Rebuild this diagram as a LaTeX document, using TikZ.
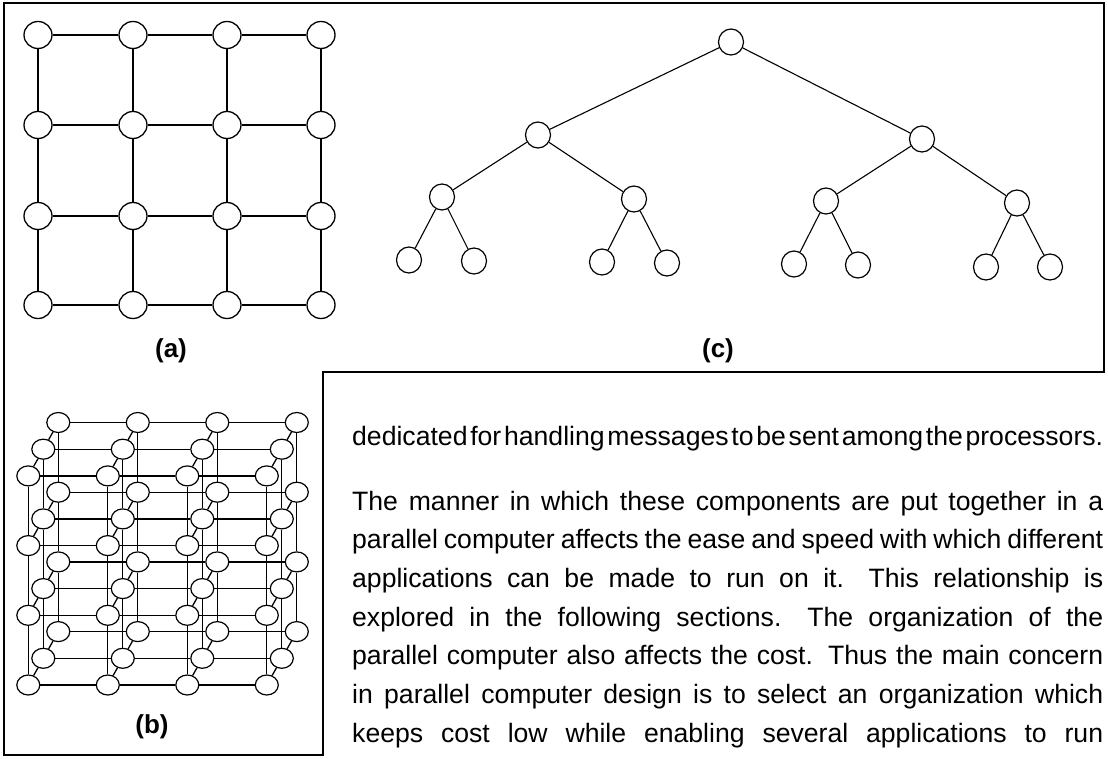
\documentclass[tikz,border=0pt]{standalone}
\usepackage{fontspec}
\setmainfont{Liberation Sans}
\usepackage{tikz}
\usetikzlibrary{shapes.geometric}
\tikzstyle{gridnode}=[ellipse, draw, line width=1.3pt, minimum width=28pt, minimum height=27pt, inner sep=0pt]
\tikzstyle{cubenode}=[ellipse, draw, line width=1.2pt, minimum width=23pt, minimum height=20pt, inner sep=0pt]
\tikzstyle{treenode}=[ellipse, draw, line width=1.2pt, minimum width=25pt, minimum height=26pt, inner sep=0pt]
\tikzstyle{gridlink}=[line width=1.4pt]
\tikzstyle{cubelink}=[line width=1.3pt]
\tikzstyle{treelink}=[line width=1.1pt]
\tikzstyle{figlabel}=[inner sep=0pt, font=\fontsize{26}{26}\selectfont\bfseries]
\tikzstyle{textline}=[anchor=base west, inner sep=0pt, font=\fontsize{26.6}{39}\selectfont]
\newcommand{\jline}[1]{{\spaceskip=0pt plus 1fil\relax\xspaceskip=0pt plus 1.7fil\relax\makebox[751pt][s]{#1}}}

\begin{document}
\begin{tikzpicture}[x=1pt, y=-1pt]
\useasboundingbox (0,0) rectangle (1108,759);

\draw[line width=1.3pt] (4,3) -- (1104,3) -- (1104,372) -- (323,372) -- (323,755) -- (4,755) -- cycle;

% (a) 2-D mesh
\foreach \i/\x in {1/38,2/133,3/227,4/321}
  \foreach \j/\y in {1/35,2/125,3/216,4/305}
    \node[gridnode] (a\i\j) at (\x,\y) {};
\foreach \i in {1,...,4}
  \foreach \j/\k in {1/2,2/3,3/4} {
    \draw[gridlink] (a\i\j) -- (a\i\k);
    \draw[gridlink] (a\j\i) -- (a\k\i);
  }
\node[figlabel] (lbla) at (171,351) {(a)};

% (b) 3-D mesh
\foreach \i in {0,...,3}
  \foreach \j in {0,...,3}
    \foreach \k in {0,1,2}
      \node[cubenode] (b\i\j\k) at ({28.3+79.5*\i+15*\k},{685-69.7*\j-26.7*\k}) {};
\foreach \i/\ii in {0/1,1/2,2/3}
  \foreach \j in {0,...,3}
    \foreach \k in {0,1,2}
      \draw[cubelink] (b\i\j\k) -- (b\ii\j\k);
\foreach \i in {0,...,3}
  \foreach \j/\jj in {0/1,1/2,2/3}
    \foreach \k in {0,1,2}
      \draw[cubelink] (b\i\j\k) -- (b\i\jj\k);
\foreach \i in {0,...,3}
  \foreach \j in {0,...,3}
    \foreach \k/\kk in {0/1,1/2}
      \draw[cubelink] (b\i\j\k) -- (b\i\j\kk);
\node[figlabel] (lblb) at (152,727) {(b)};

% (c) binary tree
\node[treenode] (c1) at (731,42) {};
\node[treenode] (c2) at (538,135) {};
\node[treenode] (c3) at (922,139) {};
\node[treenode] (c4) at (442,197) {};
\node[treenode] (c5) at (634,199) {};
\node[treenode] (c6) at (826,201) {};
\node[treenode] (c7) at (1017,203) {};
\node[treenode] (c8) at (409,260) {};
\node[treenode] (c9) at (474,261) {};
\node[treenode] (c10) at (602,262) {};
\node[treenode] (c11) at (667,263) {};
\node[treenode] (c12) at (794,264) {};
\node[treenode] (c13) at (858,265) {};
\node[treenode] (c14) at (986,267) {};
\node[treenode] (c15) at (1050,267) {};
\draw[treelink] (c1) -- (c2);
\draw[treelink] (c1) -- (c3);
\draw[treelink] (c2) -- (c4);
\draw[treelink] (c2) -- (c5);
\draw[treelink] (c3) -- (c6);
\draw[treelink] (c3) -- (c7);
\draw[treelink] (c4) -- (c8);
\draw[treelink] (c4) -- (c9);
\draw[treelink] (c5) -- (c10);
\draw[treelink] (c5) -- (c11);
\draw[treelink] (c6) -- (c12);
\draw[treelink] (c6) -- (c13);
\draw[treelink] (c7) -- (c14);
\draw[treelink] (c7) -- (c15);
\node[figlabel] (lblc) at (718,351) {(c)};

% running text
\node[textline] (t1) at (352,445) {\jline{dedicated for handling messages to be sent among the processors.}};
\node[textline] (t2) at (352,510) {\jline{The manner in which these components are put together in a}};
\node[textline] (t3) at (352,548.7) {\jline{parallel computer affects the ease and speed with which different}};
\node[textline] (t4) at (352,587.4) {\jline{applications can be made to run on it. This relationship is}};
\node[textline] (t5) at (352,626) {\jline{explored in the following sections. The organization of the}};
\node[textline] (t6) at (352,664.8) {\jline{parallel computer also affects the cost. Thus the main concern}};
\node[textline] (t7) at (352,703.5) {\jline{in parallel computer design is to select an organization which}};
\node[textline] (t8) at (352,742.2) {\jline{keeps cost low while enabling several applications to run}};

\end{tikzpicture}
\end{document}
